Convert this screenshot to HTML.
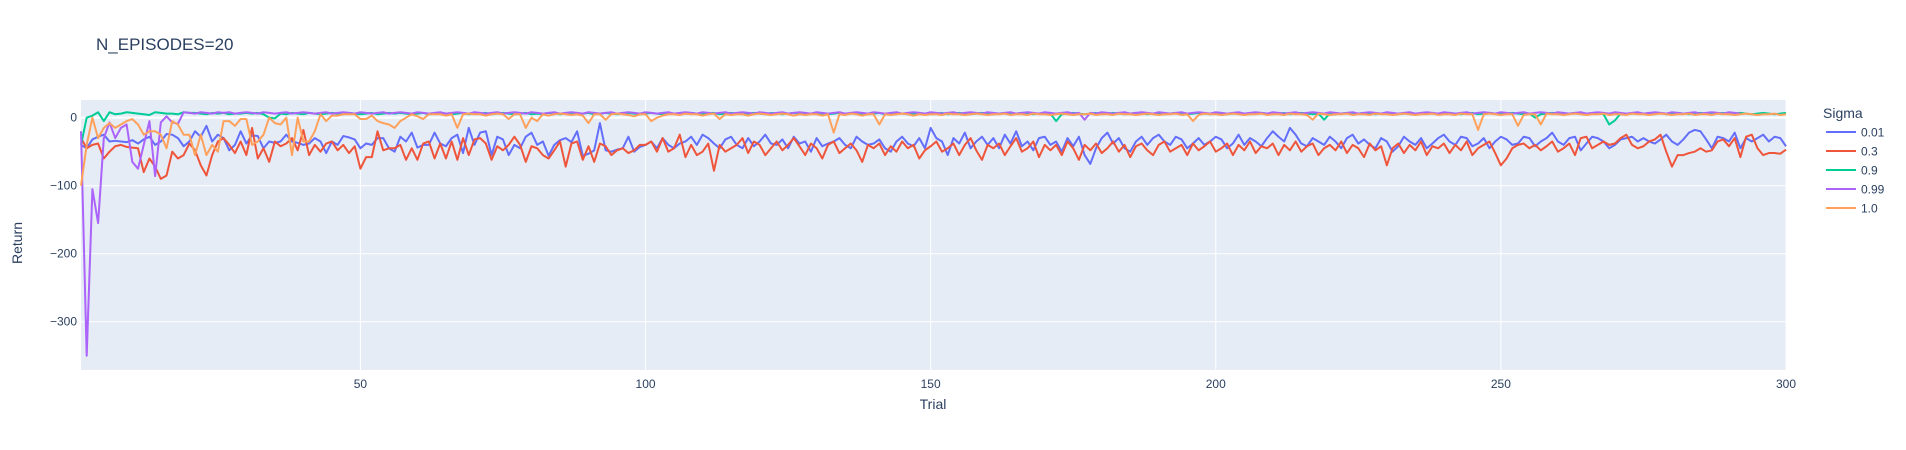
<!DOCTYPE html>
<html><head><meta charset="utf-8"><style>
html,body{margin:0;padding:0;background:#fff;}
svg{display:block;font-family:"Liberation Sans",sans-serif;}
</style></head><body>
<svg id="chart" width="1906" height="450">
<rect x="81" y="100" width="1705" height="270" fill="#E5ECF6"/>
<g id="grid"></g>
<g id="lines"></g>
<g id="ticks"></g>
<text x="96" y="50" font-size="17" fill="#2a3f5f">N_EPISODES=20</text>
<text x="933" y="409" font-size="14" fill="#2a3f5f" text-anchor="middle">Trial</text>
<text x="22" y="243" font-size="14" fill="#2a3f5f" text-anchor="middle" transform="rotate(-90 22 243)">Return</text>
<g id="legend">
<text x="1823" y="118" font-size="14" fill="#2a3f5f">Sigma</text>
</g>
</svg>
<script>
const xTicks=[50,100,150,200,250,300];
const yTicks=[0,-100,-200,-300];
const xTickLabels=["50","100","150","200","250","300"];
const yTickLabels=["0","−100","−200","−300"];
const seriesNames=["0.01","0.3","0.9","0.99","1.0"];
const sBlue=[-40,-45,-32,-28,-25,-35,-34,-35,-36,-33,-38,-32,-28,-40,-35,-24,-25,-30,-42,-35,-20,-28,-12,-35,-25,-30,-48,-40,-20,-38,-26,-27,-45,-35,-37,-35,-25,-35,-37,-40,-38,-30,-35,-52,-35,-40,-27,-29,-32,-45,-38,-40,-30,-30,-45,-50,-28,-35,-22,-44,-40,-40,-22,-38,-42,-30,-25,-52,-15,-40,-22,-20,-55,-28,-32,-55,-40,-45,-28,-22,-40,-35,-56,-40,-33,-30,-36,-20,-56,-53,-48,-8,-48,-50,-47,-45,-28,-50,-43,-40,-35,-45,-30,-40,-45,-38,-35,-28,-40,-25,-30,-38,-45,-32,-28,-40,-45,-30,-42,-35,-25,-38,-40,-32,-45,-28,-38,-35,-50,-30,-42,-38,-35,-30,-40,-45,-28,-35,-40,-38,-32,-45,-50,-35,-28,-38,-42,-30,-45,-15,-30,-35,-55,-30,-38,-22,-45,-35,-28,-40,-30,-45,-25,-38,-20,-42,-35,-48,-30,-28,-40,-35,-50,-30,-42,-28,-55,-68,-45,-30,-22,-38,-30,-45,-50,-35,-28,-40,-30,-25,-35,-40,-28,-32,-45,-38,-30,-40,-35,-28,-32,-45,-38,-25,-40,-30,-35,-42,-30,-20,-28,-35,-15,-25,-38,-42,-30,-35,-40,-28,-35,-45,-30,-25,-38,-32,-40,-45,-30,-35,-50,-42,-28,-35,-40,-30,-45,-38,-30,-25,-35,-40,-28,-30,-42,-38,-30,-45,-35,-28,-32,-40,-38,-28,-30,-42,-35,-30,-22,-35,-40,-30,-28,-48,-38,-28,-30,-35,-45,-40,-32,-30,-28,-35,-30,-35,-38,-32,-25,-35,-40,-32,-22,-18,-20,-32,-45,-28,-30,-35,-22,-45,-30,-35,-30,-25,-35,-28,-30,-42];
const sRed=[-30,-45,-40,-38,-60,-50,-42,-40,-43,-44,-45,-80,-60,-72,-90,-85,-50,-60,-55,-38,-48,-70,-85,-55,-35,-30,-40,-52,-35,-55,-15,-60,-45,-65,-35,-42,-38,-30,-48,-18,-55,-40,-50,-38,-35,-48,-40,-52,-42,-75,-58,-58,-20,-48,-45,-45,-40,-62,-45,-62,-38,-35,-60,-38,-60,-35,-62,-30,-55,-32,-30,-38,-62,-42,-48,-40,-28,-40,-65,-42,-45,-55,-60,-48,-35,-72,-38,-35,-62,-42,-65,-38,-42,-55,-48,-45,-52,-48,-40,-40,-35,-50,-30,-50,-45,-25,-58,-40,-55,-50,-38,-78,-40,-50,-45,-40,-30,-52,-35,-40,-55,-45,-35,-48,-40,-30,-42,-55,-38,-45,-60,-40,-35,-52,-45,-38,-48,-65,-40,-45,-38,-55,-42,-50,-35,-45,-40,-60,-48,-42,-35,-50,-45,-38,-55,-40,-30,-48,-62,-40,-45,-38,-55,-42,-30,-50,-45,-35,-58,-40,-48,-40,-55,-35,-45,-62,-40,-48,-38,-52,-45,-35,-50,-40,-58,-42,-38,-48,-55,-40,-35,-50,-45,-40,-55,-38,-48,-42,-35,-50,-45,-38,-55,-40,-48,-35,-52,-42,-45,-38,-55,-40,-48,-35,-50,-42,-38,-55,-45,-40,-48,-35,-52,-40,-45,-58,-38,-48,-42,-70,-45,-38,-52,-40,-48,-35,-55,-42,-45,-38,-52,-40,-48,-35,-55,-45,-40,-35,-52,-70,-60,-45,-40,-38,-45,-40,-48,-42,-35,-50,-45,-38,-55,-30,-28,-45,-40,-35,-40,-38,-30,-25,-40,-45,-42,-35,-32,-25,-50,-72,-55,-55,-52,-50,-45,-50,-48,-35,-32,-42,-30,-58,-28,-25,-45,-55,-52,-52,-53,-47];
const sGreen=[-40,0,3,8,-5,8,5,6,8,7,6,5,4,8,7,6,6,5,8,7,7,6,5,7,6,7,5,6,6,7,6,7,5,0,-1,6,5,7,6,5,7,6,5,6,7,6,5,7,6,5,6,7,5,6,7,6,7,6,5,6,7,5,6,7,6,5,6,7,5,6,6,7,5,6,7,6,5,6,7,5,6,5,7,6,5,6,7,5,6,7,5,6,7,6,5,6,7,6,5,6,7,6,5,7,6,5,6,7,6,5,6,7,5,6,7,6,5,6,7,6,5,7,6,5,6,7,6,5,6,7,6,5,6,7,5,6,7,6,5,6,7,5,6,7,6,5,6,7,6,5,6,7,5,6,7,6,5,6,7,6,5,6,7,5,6,7,6,5,6,7,6,-5,5,6,7,6,5,6,7,5,6,7,6,5,6,7,6,5,6,7,5,6,7,6,5,6,7,6,5,6,7,5,6,7,6,5,6,7,6,5,6,7,5,6,7,6,5,6,-3,6,5,6,7,5,6,7,6,5,6,7,6,5,6,7,5,6,7,6,5,6,7,6,5,6,7,5,6,7,6,5,6,7,6,5,6,0,5,6,7,6,5,6,7,6,5,6,7,5,-10,-4,6,5,6,7,6,5,6,7,5,6,7,6,5,6,7,6,5,6,7,5,6,7,6,5,6,7,6,5,6,7,6,5,7,6,5,6,7];
const sPurple=[-20,-350,-105,-155,-30,-7,-30,-15,-10,-65,-75,-40,-5,-86,-7,2,-7,-9,8,7,6,8,7,6,8,7,8,6,7,8,7,6,8,7,6,7,8,6,7,8,7,6,7,8,6,7,8,7,6,8,7,6,7,8,6,7,8,7,6,8,7,6,7,8,6,7,8,7,6,8,7,6,7,8,6,7,8,7,6,8,7,6,7,8,6,7,8,7,6,8,7,6,7,8,6,7,8,7,6,8,7,6,7,8,6,7,8,7,6,8,7,6,7,8,6,7,8,7,6,8,7,6,7,8,6,7,8,7,6,8,7,6,7,8,6,7,8,7,6,8,7,6,7,8,6,7,8,7,6,8,7,6,7,8,6,7,8,7,6,8,7,6,7,8,6,7,8,7,6,8,7,6,7,8,6,7,-3,7,6,8,7,6,7,8,6,7,8,7,6,8,7,6,7,8,6,7,8,7,6,8,7,6,7,8,6,7,8,7,6,8,7,6,7,8,6,7,8,7,6,8,7,6,7,8,6,7,8,7,6,8,7,6,7,8,6,7,8,7,6,8,7,6,7,8,6,7,8,7,6,8,7,6,7,8,6,7,8,7,6,8,7,6,7,8,6,7,8,7,6,8,7,6,7,8,6,7,8,7,6,8,7,6,7,8,6,7,8,7,6,8,7,6];
const sOrange=[-100,-40,0,-30,-15,-8,-15,-10,-5,-2,-10,-25,-20,-20,-25,-45,-5,-10,-25,-25,-55,-25,-55,-40,-50,-5,-5,-12,-2,-2,-40,-35,-25,0,-8,-10,0,-55,0,-35,-35,-20,5,-5,3,3,5,5,5,-2,-2,3,-5,-8,-10,-15,-5,0,5,2,-2,5,5,5,3,5,-15,5,6,5,5,3,5,6,5,-2,5,5,-15,0,-5,5,3,5,6,5,4,5,3,-8,5,5,-3,5,6,5,4,2,5,5,-5,0,3,5,5,4,6,5,5,3,5,6,-2,5,4,5,5,3,5,6,5,4,5,6,5,3,5,4,5,5,3,5,-22,5,4,6,5,3,5,5,-10,5,4,5,6,5,3,5,4,5,5,4,6,5,5,4,5,6,5,4,5,5,6,4,5,5,4,6,5,5,4,5,6,5,4,5,5,6,4,5,5,4,6,5,5,4,5,6,5,4,5,5,6,4,5,-5,4,6,5,5,4,5,6,5,4,5,5,6,4,5,5,4,6,5,5,4,-3,6,5,4,5,5,6,4,5,5,4,6,5,5,4,5,6,5,4,5,5,6,4,5,5,4,6,5,5,-18,5,6,5,4,5,5,-12,4,5,5,-10,6,5,5,4,5,6,5,4,5,5,6,4,5,5,4,6,5,5,4,5,6,5,4,5,5,6,4,5,5,4,6,5,5,4,5,6,5,4,5,5,6,4,5,5,4,6,5,5,4,5,6,5,4,5,5,6,4,5,5];
const seriesData=[sBlue,sRed,sGreen,sPurple,sOrange];
const seriesColors=["#636efa","#EF553B","#00cc96","#ab63fa","#FFA15A"];

const L=81,R=1786,T=100,B=370,X0=1,X1=300,YMAX=26,YMIN=-371;
function xs(t){return L+(t-X0)*(R-L)/(X1-X0);}
function ys(v){return T+(YMAX-v)*(B-T)/(YMAX-YMIN);}
const NS="http://www.w3.org/2000/svg";
const grid=document.getElementById('grid'),ticks=document.getElementById('ticks'),lines=document.getElementById('lines'),legend=document.getElementById('legend');
function mk(tag,attrs){const e=document.createElementNS(NS,tag);for(const k in attrs)e.setAttribute(k,attrs[k]);return e;}
xTicks.forEach((t,i)=>{
  const g=mk('line',{x1:xs(t),x2:xs(t),y1:T,y2:B,stroke:'#fff','stroke-width':1});
  
  
  grid.appendChild(g);
  const tx=mk('text',{x:xs(t),y:B+18,'font-size':12,fill:'#2a3f5f','text-anchor':'middle'});
  tx.textContent=xTickLabels[i];
  
  
  ticks.appendChild(tx);
});
yTicks.forEach((v,i)=>{
  const g=mk('line',{x1:L,x2:R,y1:ys(v),y2:ys(v),stroke:'#fff','stroke-width':v===0?2:1});
  
  
  grid.appendChild(g);
  const tx=mk('text',{x:L-4,y:ys(v)+4,'font-size':12,fill:'#2a3f5f','text-anchor':'end'});
  tx.textContent=yTickLabels[i];
  
  
  ticks.appendChild(tx);
});
seriesData.forEach((arr,si)=>{
  const pts=arr.slice(0,X1).map((v,i)=>xs(i+1).toFixed(2)+','+ys(v).toFixed(2)).join(' ');
  const p=mk('polyline',{points:pts,fill:'none',stroke:seriesColors[si],'stroke-width':2,'stroke-linejoin':'round'});
  
  
  lines.appendChild(p);
  const ly=132+si*19;
  const ll=mk('line',{x1:1826,x2:1856,y1:ly,y2:ly,stroke:seriesColors[si],'stroke-width':2});
  
  
  legend.appendChild(ll);
  const lt=mk('text',{x:1861,y:ly+4.5,'font-size':12,fill:'#2a3f5f'});
  lt.textContent=seriesNames[si];
  
  
  legend.appendChild(lt);
});
</script>
</body></html>
